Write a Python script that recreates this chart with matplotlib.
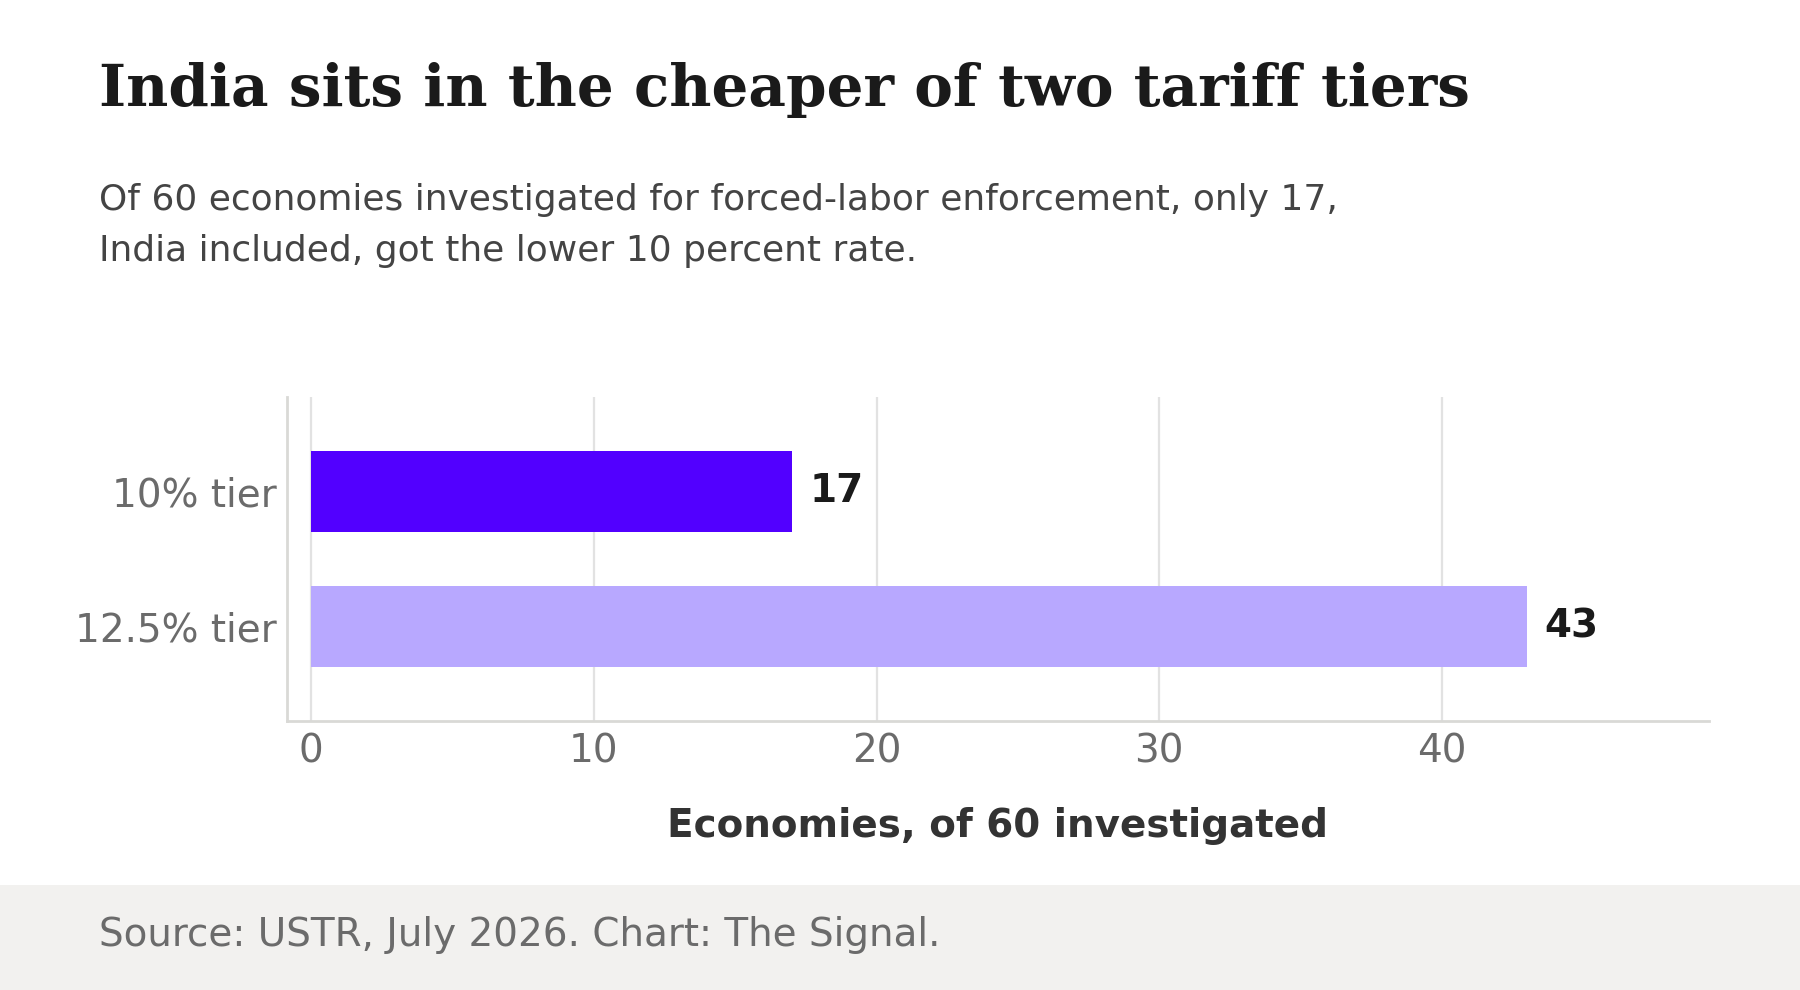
import matplotlib.pyplot as plt
from matplotlib.patches import Rectangle

# data
tiers = ["10% tier", "12.5% tier"]
counts = [17, 43]
bar_colors = ["#5200ff", "#b8a8ff"]
xticks = [0, 10, 20, 30, 40]

title = "India sits in the cheaper of two tariff tiers"
subtitle = ("Of 60 economies investigated for forced-labor enforcement, only 17,\n"
            "India included, got the lower 10 percent rate.")
source = "Source: USTR, July 2026. Chart: The Signal."
xlabel = "Economies, of 60 investigated"

fig = plt.figure(figsize=(9, 4.95), dpi=200)
fig.patch.set_facecolor("white")

# footer band
fig.patches.append(Rectangle((0, 0), 1, 0.106, transform=fig.transFigure,
                             facecolor="#f2f1ef", edgecolor="none", zorder=0))

ax = fig.add_axes([0.1594, 0.2717, 0.79, 0.3273])

pos = list(range(len(tiers)))
ax.barh(pos, counts, height=0.6, color=bar_colors, zorder=3)
for p, c in zip(pos, counts):
    ax.annotate(str(c), (c, p), xytext=(6.5, 0), textcoords="offset points",
                va="center", ha="left", fontsize=14, fontweight="bold",
                color="#1a1a1a")

ax.set_xlim(-0.02 * max(counts), 1.15 * max(counts))
ax.set_ylim(1.7, -0.7)
ax.set_yticks(pos)
ax.set_yticklabels(tiers)
ax.set_xticks(xticks)
ax.tick_params(axis="both", length=0, labelsize=14, labelcolor="#6b6b6b")
ax.tick_params(axis="x", pad=4.3)
ax.grid(axis="x", color="#e2e2e2", linewidth=0.8, zorder=0)
ax.set_axisbelow(True)
for s in ["top", "right"]:
    ax.spines[s].set_visible(False)
for s in ["left", "bottom"]:
    ax.spines[s].set_color("#d9d9d6")
    ax.spines[s].set_linewidth(1.0)

ax.set_xlabel(xlabel, fontsize=14, fontweight="bold", color="#333333", labelpad=13)

fig.text(0.0548, 0.909, title, fontsize=20.9, fontweight="bold",
         family="DejaVu Serif", color="#1a1a1a", va="center", ha="left")
fig.text(0.0548, 0.7725, subtitle, fontsize=12.95, color="#444444",
         va="center", ha="left", linespacing=1.62)
fig.text(0.0548, 0.056, source, fontsize=14, color="#6b6b6b",
         va="center", ha="left")

fig.savefig("out.png", dpi=200)
